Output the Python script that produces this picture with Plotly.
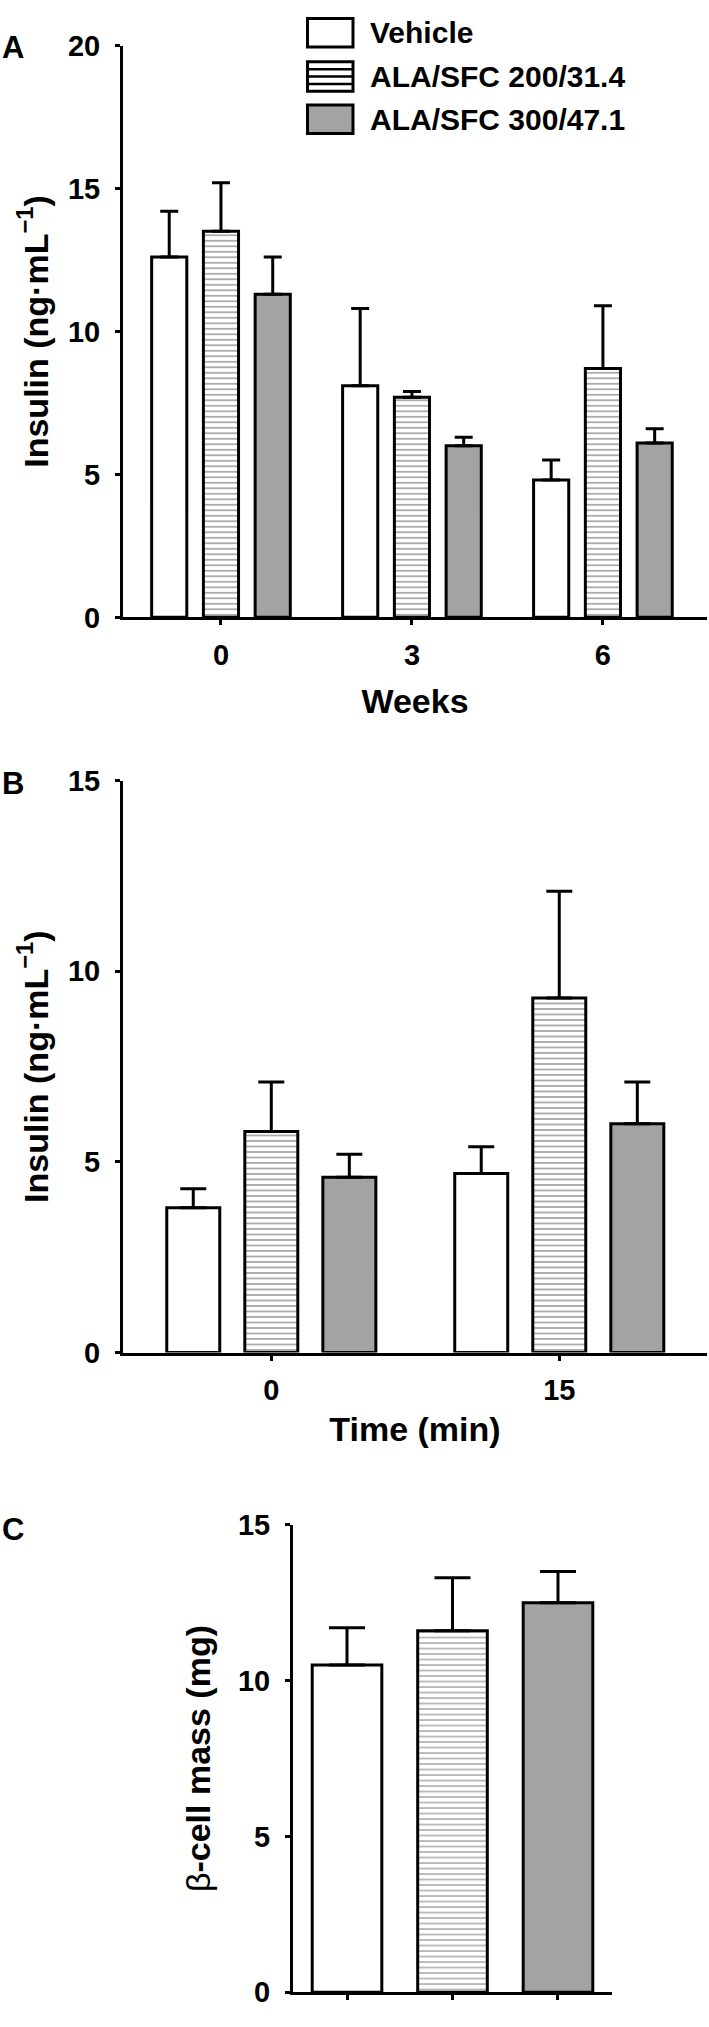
import plotly.graph_objects as go

# ---------------- data ----------------
series_names = ["Vehicle", "ALA/SFC 200/31.4", "ALA/SFC 300/47.1"]

weeks = ["0", "3", "6"]
insulin_weeks_vehicle = [12.6, 8.1, 4.8]
insulin_weeks_vehicle_err = [1.6, 2.7, 0.7]
insulin_weeks_ala200 = [13.5, 7.7, 8.7]
insulin_weeks_ala200_err = [1.7, 0.2, 2.2]
insulin_weeks_ala300 = [11.3, 6.0, 6.1]
insulin_weeks_ala300_err = [1.3, 0.3, 0.5]

time_min = ["0", "15"]
insulin_time_vehicle = [3.8, 4.7]
insulin_time_vehicle_err = [0.5, 0.7]
insulin_time_ala200 = [5.8, 9.3]
insulin_time_ala200_err = [1.3, 2.8]
insulin_time_ala300 = [4.6, 6.0]
insulin_time_ala300_err = [0.6, 1.1]

beta_cell_mass = [10.5, 11.6, 12.5]
beta_cell_mass_err = [1.2, 1.7, 1.0]

# ---------------- geometry helpers ----------------
W, H = 709, 2027
def X(px):
    return px / W
def Y(px):
    return 1 - px / H

FONT = "Liberation Sans, Arial, sans-serif"
GRAY = "#a3a3a3"
LW = 3
styles = [
    dict(color="white", pattern=dict(shape="")),
    dict(color="white", pattern=dict(shape="-", fgcolor="#222222", size=5.5, solidity=0.25)),
    dict(color=GRAY, pattern=dict(shape="")),
]

fig = go.Figure()

def add_group(xcats, vals_list, errs_list, xa, ya, capw):
    for name, vals, errs, st in zip(series_names, vals_list, errs_list, styles):
        fig.add_trace(go.Bar(
            x=xcats, y=vals, name=name, xaxis=xa, yaxis=ya, showlegend=False,
            marker=dict(color=st["color"], pattern=st["pattern"],
                        line=dict(color="black", width=LW)),
            error_y=dict(type="data", symmetric=False, array=errs,
                         arrayminus=[0] * len(errs), color="black",
                         thickness=LW, width=capw),
        ))

add_group(weeks,
          [insulin_weeks_vehicle, insulin_weeks_ala200, insulin_weeks_ala300],
          [insulin_weeks_vehicle_err, insulin_weeks_ala200_err, insulin_weeks_ala300_err],
          "x", "y", 9)
add_group(time_min,
          [insulin_time_vehicle, insulin_time_ala200, insulin_time_ala300],
          [insulin_time_vehicle_err, insulin_time_ala200_err, insulin_time_ala300_err],
          "x2", "y2", 13)

fig.add_trace(go.Bar(
    x=series_names, y=beta_cell_mass, xaxis="x3", yaxis="y3", showlegend=False,
    width=0.66,
    marker=dict(color=[s["color"] for s in styles],
                pattern=dict(shape=["", "-", ""], fgcolor="#222222", size=5.5, solidity=0.25),
                line=dict(color="black", width=LW)),
    error_y=dict(type="data", symmetric=False, array=beta_cell_mass_err,
                 arrayminus=[0] * 3, color="black", thickness=LW, width=18),
))

axis_common = dict(showline=True, linecolor="black", linewidth=3, ticks="outside",
                   ticklen=5, tickwidth=3, tickcolor="black", showgrid=False,
                   zeroline=False, tickfont=dict(size=29), mirror=False)

ytitle = "Insulin (ng·mL<sup>−1</sup>)"
TS = 34

fig.update_layout(
    width=W, height=H, margin=dict(l=0, r=0, t=0, b=0),
    paper_bgcolor="white", plot_bgcolor="white",
    font=dict(family=FONT, size=28, color="black", weight="bold"),
    barmode="group", bargap=0.187, bargroupgap=0.321,
    showlegend=False,
    xaxis=dict(axis_common, domain=[X(123), X(707)], anchor="y", type="category",
               range=[-0.513, 2.545], ticklabelstandoff=5,
               title=dict(text="Weeks", font=dict(size=TS), standoff=20)),
    yaxis=dict(axis_common, domain=[Y(611), Y(30)], anchor="x", range=[0, 20], dtick=5,
               ticklabelstandoff=9,
               title=dict(text=ytitle, font=dict(size=TS), standoff=10)),
    xaxis2=dict(axis_common, domain=[X(123), X(707)], anchor="y2", type="category",
                range=[-0.515, 1.513], ticklabelstandoff=5,
                title=dict(text="Time (min)", font=dict(size=TS), standoff=12)),
    yaxis2=dict(axis_common, domain=[Y(1358), Y(777)], anchor="x2", range=[0, 15], dtick=5,
                ticklabelstandoff=9,
                title=dict(text=ytitle, font=dict(size=TS), standoff=10)),
    xaxis3=dict(axis_common, domain=[X(293), X(612)], anchor="y3", type="category",
                range=[-0.512, 2.512], showticklabels=False),
    yaxis3=dict(axis_common, domain=[Y(2008), Y(1533)], anchor="x3", range=[0, 15], dtick=5,
                ticklabelstandoff=9,
                title=dict(text="<span style='font-weight:normal'>β</span>-cell mass (mg)",
                           font=dict(size=TS), standoff=18)),
)

# panel labels
for lab, ypx in [("A", 32), ("B", 780), ("C", 1538)]:
    fig.add_annotation(text=lab, x=X(0), y=Y(ypx), xref="paper", yref="paper",
                       xanchor="left", yanchor="middle", showarrow=False,
                       font=dict(size=31))

# legend (panel A)
box_x0, box_x1 = X(307.5), X(353)
boxes = [(2.5, 31.5), (46.5, 76.5), (90.5, 119.5)]
fills = ["white", "white", GRAY]
for (t, b), fill, name in zip(boxes, fills, series_names):
    fig.add_shape(type="rect", xref="paper", yref="paper", x0=box_x0, x1=box_x1,
                  y0=Y(b), y1=Y(t), fillcolor=fill, line=dict(color="black", width=3))
    fig.add_annotation(text=name, x=X(368), y=Y((t + b) / 2), xref="paper", yref="paper",
                       xanchor="left", yanchor="middle", showarrow=False,
                       font=dict(size=30))
t, b = boxes[1]
for k in range(1, 4):
    yy = t + (b - t) * k / 4
    fig.add_shape(type="line", xref="paper", yref="paper", x0=box_x0, x1=box_x1,
                  y0=Y(yy), y1=Y(yy), line=dict(color="black", width=2.5))

fig.write_html("out.html",
               config={"displayModeBar": False},
               post_script="document.body.style.margin='0px';"
                           "document.body.style.overflow='hidden';")
